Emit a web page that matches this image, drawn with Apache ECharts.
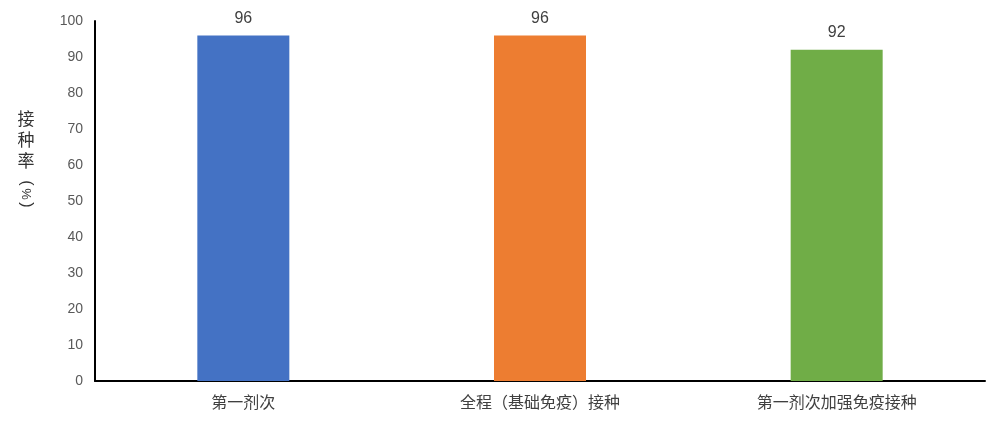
<!DOCTYPE html>
<html><head><meta charset="utf-8">
<script src="https://cdn.jsdelivr.net/npm/echarts@6/dist/echarts.min.js"></script>
<style>html,body{margin:0;padding:0;background:#fff}#c{width:993px;height:432px}</style>
</head><body><div id="c"></div>
<script>
const categories = ['第一剂次', '全程（基础免疫）接种', '第一剂次加强免疫接种'];
const values = [96, 96, 92];
const colors = ['#4472C4', '#ED7D31', '#70AD47'];
const yTicks = { min: 0, max: 100, interval: 10 };
const yNameMain = '接种率';
const yNameUnit = ['(', '%', ')'];

const nameFont = '17px "Noto Sans CJK SC"';
const unitPos = [183, 194, 205];
const chart = echarts.init(document.getElementById('c'));
chart.setOption({
  animation: false,
  grid: { left: 95, right: 8, top: 21, bottom: 51 },
  graphic: [
    { type: 'text', x: 26, y: 108, style: { text: yNameMain.split('').join('\n'), fill: '#333', font: nameFont, lineHeight: 21, align: 'center' } }
  ].concat(yNameUnit.map((t, i) => ({
    type: 'text', x: 26, y: unitPos[i], rotation: -Math.PI / 2,
    style: { text: t, fill: '#333', font: i === 1 ? '13px "Liberation Sans"' : '16px "Liberation Sans"', align: 'center', verticalAlign: 'middle' }
  }))),
  xAxis: {
    type: 'category', data: categories,
    axisLine: { lineStyle: { color: '#000', width: 2 } },
    axisTick: { show: false },
    axisLabel: { color: '#404040', fontSize: 16, margin: 13, fontFamily: 'Noto Sans CJK SC' }
  },
  yAxis: {
    type: 'value', min: yTicks.min, max: yTicks.max, interval: yTicks.interval,
    axisLine: { show: true, lineStyle: { color: '#000', width: 2 } },
    axisTick: { show: false },
    splitLine: { show: false },
    axisLabel: { color: '#595959', fontSize: 14, margin: 12, fontFamily: 'Liberation Sans' }
  },
  series: [{
    type: 'bar', barWidth: 92,
    data: values.map((v, i) => ({ value: v, itemStyle: { color: colors[i] } })),
    label: { show: true, position: 'top', color: '#404040', fontSize: 16, distance: 9, fontFamily: 'Liberation Sans' }
  }]
});
</script></body></html>
